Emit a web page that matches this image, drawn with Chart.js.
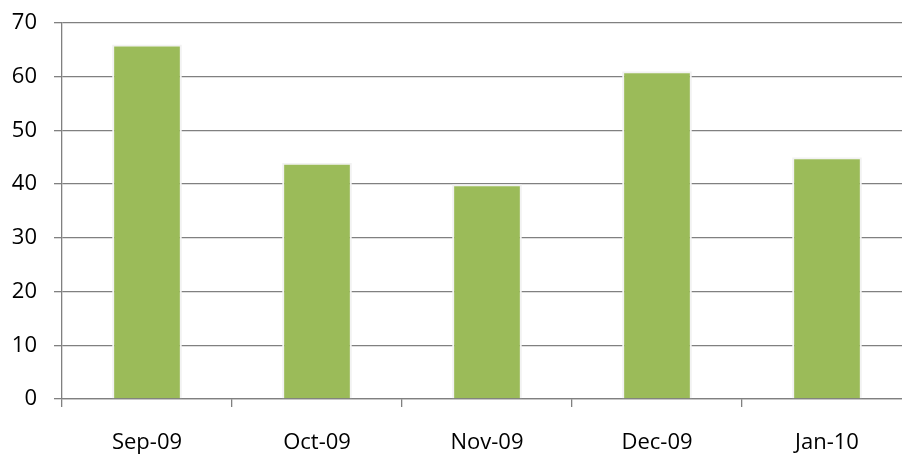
<!DOCTYPE html>
<html>
<head>
<meta charset="utf-8">
<script src="https://cdn.jsdelivr.net/npm/chart.js@4/dist/chart.umd.min.js"></script>
<style>
  html, body { margin: 0; padding: 0; background: #fff; overflow: hidden; }
  #wrap { width: 915px; height: 455px; }
</style>
</head>
<body>
<div id="wrap"><canvas id="chart" width="915" height="455"></canvas></div>
<script>
const months = ['Sep-09', 'Oct-09', 'Nov-09', 'Dec-09', 'Jan-10'];
const values = [66, 44, 40, 61, 45];
const yTicks = [0, 10, 20, 30, 40, 50, 60, 70];

const axisGray = '#808080';
const labelFont = { family: '"Open Sans", "Liberation Sans", sans-serif', size: 22 };

const ctx = document.getElementById('chart').getContext('2d');

new Chart(ctx, {
  type: 'bar',
  data: {
    labels: months,
    datasets: [
      {
        data: values,
        backgroundColor: '#9bbb59',
        borderColor: '#f2f2f2',
        borderWidth: 2,
        borderSkipped: 'bottom',
        barPercentage: 0.41,
        categoryPercentage: 1,
      },
    ],
  },
  options: {
    responsive: false,
    animation: false,
    layout: { padding: { top: 23, right: 3, left: 0, bottom: 0 } },
    plugins: {
      legend: { display: false },
      tooltip: { enabled: false },
    },
    scales: {
      x: {
        offset: true,
        border: { color: axisGray, width: 1.3 },
        grid: {
          offset: true,
          drawOnChartArea: false,
          drawTicks: true,
          tickLength: 8,
          lineWidth: 1.3,
          color: axisGray,
        },
        ticks: { color: '#000', font: labelFont, padding: 23 },
        afterFit: scale => { scale.height = 56; scale.paddingLeft = 0; scale.paddingRight = 0; },
      },
      y: {
        min: 0,
        max: 70,
        border: { color: axisGray, width: 1.3 },
        grid: {
          color: axisGray,
          lineWidth: 1.3,
          tickLength: 8,
          drawTicks: true,
        },
        afterBuildTicks: scale => {
          scale.ticks = yTicks.map(v => ({ value: v }));
        },
        ticks: { color: '#000', font: labelFont, padding: 17 },
        afterFit: scale => { scale.width = 62; scale.paddingTop = 0; scale.paddingBottom = 0; },
      },
    },
  },
});
</script>
</body>
</html>
